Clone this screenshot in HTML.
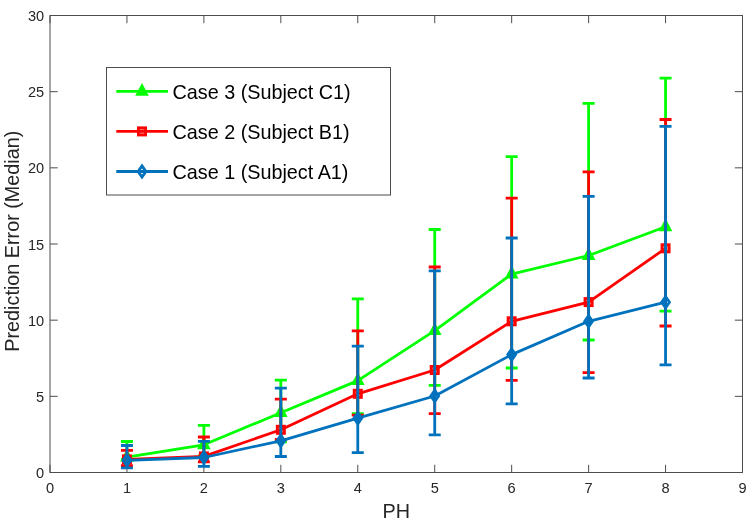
<!DOCTYPE html>
<html lang="en">
<head>
<meta charset="utf-8">
<title>Prediction Error (Median) vs PH</title>
<style>
html,body{margin:0;padding:0;background:#ffffff;}
body{width:750px;height:522px;overflow:hidden;}
</style>
</head>
<body>
<svg xmlns="http://www.w3.org/2000/svg" width="750" height="522" viewBox="0 0 750 522" style="display:block;font-family:'Liberation Sans',Arial,Helvetica,sans-serif">
<rect x="0" y="0" width="750" height="522" fill="#ffffff"/>
<path d="M50.00,472.5v-7.7M50.00,15.5v7.7M126.94,472.5v-7.7M126.94,15.5v7.7M203.89,472.5v-7.7M203.89,15.5v7.7M280.83,472.5v-7.7M280.83,15.5v7.7M357.78,472.5v-7.7M357.78,15.5v7.7M434.72,472.5v-7.7M434.72,15.5v7.7M511.67,472.5v-7.7M511.67,15.5v7.7M588.61,472.5v-7.7M588.61,15.5v7.7M665.56,472.5v-7.7M665.56,15.5v7.7M742.50,472.5v-7.7M742.50,15.5v7.7M50.0,472.50h7.7M742.5,472.50h-7.7M50.0,396.33h7.7M742.5,396.33h-7.7M50.0,320.17h7.7M742.5,320.17h-7.7M50.0,244.00h7.7M742.5,244.00h-7.7M50.0,167.83h7.7M742.5,167.83h-7.7M50.0,91.67h7.7M742.5,91.67h-7.7M50.0,15.50h7.7M742.5,15.50h-7.7" stroke="#4d4d4d" stroke-width="1" fill="none"/>
<rect x="50.0" y="15.5" width="692.5" height="457.0" fill="none" stroke="#4d4d4d" stroke-width="1"/>
<g font-size="14.6" fill="#262626">
<text x="50.00" y="492.7" text-anchor="middle">0</text>
<text x="126.94" y="492.7" text-anchor="middle">1</text>
<text x="203.89" y="492.7" text-anchor="middle">2</text>
<text x="280.83" y="492.7" text-anchor="middle">3</text>
<text x="357.78" y="492.7" text-anchor="middle">4</text>
<text x="434.72" y="492.7" text-anchor="middle">5</text>
<text x="511.67" y="492.7" text-anchor="middle">6</text>
<text x="588.61" y="492.7" text-anchor="middle">7</text>
<text x="665.56" y="492.7" text-anchor="middle">8</text>
<text x="742.50" y="492.7" text-anchor="middle">9</text>
<text x="44.2" y="478.10" text-anchor="end">0</text>
<text x="44.2" y="401.93" text-anchor="end">5</text>
<text x="44.2" y="325.77" text-anchor="end">10</text>
<text x="44.2" y="249.60" text-anchor="end">15</text>
<text x="44.2" y="173.43" text-anchor="end">20</text>
<text x="44.2" y="97.27" text-anchor="end">25</text>
<text x="44.2" y="21.10" text-anchor="end">30</text>
</g>
<text x="396.3" y="517.6" font-size="19.8" text-anchor="middle" fill="#262626">PH</text>
<text transform="translate(19.4,241.2) rotate(-90)" font-size="19.8" text-anchor="middle" fill="#262626">Prediction Error (Median)</text>
<g stroke="#00ff00" stroke-width="2.8" fill="none">
<polyline points="126.94,457.20 203.89,444.80 280.83,412.70 357.78,380.60 434.72,330.60 511.67,274.10 588.61,255.50 665.56,226.80" stroke-linejoin="round"/>
<path d="M126.94,441.50V459.50M120.94,441.50H132.94M120.94,459.50H132.94M203.89,425.30V456.00M197.89,425.30H209.89M197.89,456.00H209.89M280.83,380.10V441.80M274.83,380.10H286.83M274.83,441.80H286.83M357.78,298.90V413.60M351.78,298.90H363.78M351.78,413.60H363.78M434.72,229.50V385.30M428.72,229.50H440.72M428.72,385.30H440.72M511.67,156.60V368.00M505.67,156.60H517.67M505.67,368.00H517.67M588.61,103.40V340.00M582.61,103.40H594.61M582.61,340.00H594.61M665.56,78.20V311.20M659.56,78.20H671.56M659.56,311.20H671.56"/>
</g>
<polygon points="126.94,448.70 120.14,461.60 133.74,461.60" fill="#00ff00"/>
<polygon points="203.89,436.30 197.09,449.20 210.69,449.20" fill="#00ff00"/>
<polygon points="280.83,404.20 274.03,417.10 287.63,417.10" fill="#00ff00"/>
<polygon points="357.78,372.10 350.98,385.00 364.58,385.00" fill="#00ff00"/>
<polygon points="434.72,322.10 427.92,335.00 441.52,335.00" fill="#00ff00"/>
<polygon points="511.67,265.60 504.87,278.50 518.47,278.50" fill="#00ff00"/>
<polygon points="588.61,247.00 581.81,259.90 595.41,259.90" fill="#00ff00"/>
<polygon points="665.56,218.30 658.76,231.20 672.36,231.20" fill="#00ff00"/>
<g stroke="#ff0000" stroke-width="2.8" fill="none">
<polyline points="126.94,459.40 203.89,456.40 280.83,429.80 357.78,393.80 434.72,370.00 511.67,321.30 588.61,302.10 665.56,248.30" stroke-linejoin="round"/>
<path d="M126.94,450.30V465.60M120.94,450.30H132.94M120.94,465.60H132.94M203.89,437.00V461.80M197.89,437.00H209.89M197.89,461.80H209.89M280.83,399.20V439.50M274.83,399.20H286.83M274.83,439.50H286.83M357.78,330.90V415.10M351.78,330.90H363.78M351.78,415.10H363.78M434.72,267.00V413.60M428.72,267.00H440.72M428.72,413.60H440.72M511.67,198.10V380.30M505.67,198.10H517.67M505.67,380.30H517.67M588.61,171.80V372.60M582.61,171.80H594.61M582.61,372.60H594.61M665.56,119.50V326.00M659.56,119.50H671.56M659.56,326.00H671.56"/>
</g>
<rect x="123.34" y="455.80" width="7.2" height="7.2" fill="#ff0000" fill-opacity="0.45" stroke="#ff0000" stroke-width="2.8"/>
<rect x="200.29" y="452.80" width="7.2" height="7.2" fill="#ff0000" fill-opacity="0.45" stroke="#ff0000" stroke-width="2.8"/>
<rect x="277.23" y="426.20" width="7.2" height="7.2" fill="#ff0000" fill-opacity="0.45" stroke="#ff0000" stroke-width="2.8"/>
<rect x="354.18" y="390.20" width="7.2" height="7.2" fill="#ff0000" fill-opacity="0.45" stroke="#ff0000" stroke-width="2.8"/>
<rect x="431.12" y="366.40" width="7.2" height="7.2" fill="#ff0000" fill-opacity="0.45" stroke="#ff0000" stroke-width="2.8"/>
<rect x="508.07" y="317.70" width="7.2" height="7.2" fill="#ff0000" fill-opacity="0.45" stroke="#ff0000" stroke-width="2.8"/>
<rect x="585.01" y="298.50" width="7.2" height="7.2" fill="#ff0000" fill-opacity="0.45" stroke="#ff0000" stroke-width="2.8"/>
<rect x="661.96" y="244.70" width="7.2" height="7.2" fill="#ff0000" fill-opacity="0.45" stroke="#ff0000" stroke-width="2.8"/>
<g stroke="#0072bd" stroke-width="2.8" fill="none">
<polyline points="126.94,460.30 203.89,457.50 280.83,440.80 357.78,418.20 434.72,396.00 511.67,354.60 588.61,321.30 665.56,302.20" stroke-linejoin="round"/>
<path d="M126.94,445.50V467.80M120.94,445.50H132.94M120.94,467.80H132.94M203.89,441.30V466.30M197.89,441.30H209.89M197.89,466.30H209.89M280.83,388.10V456.50M274.83,388.10H286.83M274.83,456.50H286.83M357.78,346.20V452.70M351.78,346.20H363.78M351.78,452.70H363.78M434.72,270.90V434.90M428.72,270.90H440.72M428.72,434.90H440.72M511.67,238.00V403.90M505.67,238.00H517.67M505.67,403.90H517.67M588.61,196.30V378.00M582.61,196.30H594.61M582.61,378.00H594.61M665.56,126.40V364.80M659.56,126.40H671.56M659.56,364.80H671.56"/>
</g>
<polygon points="126.94,454.70 130.84,460.30 126.94,465.90 123.04,460.30" fill="none" stroke="#0072bd" stroke-width="2.8" stroke-linejoin="miter"/>
<polygon points="203.89,451.90 207.79,457.50 203.89,463.10 199.99,457.50" fill="none" stroke="#0072bd" stroke-width="2.8" stroke-linejoin="miter"/>
<polygon points="280.83,435.20 284.73,440.80 280.83,446.40 276.93,440.80" fill="none" stroke="#0072bd" stroke-width="2.8" stroke-linejoin="miter"/>
<polygon points="357.78,412.60 361.68,418.20 357.78,423.80 353.88,418.20" fill="none" stroke="#0072bd" stroke-width="2.8" stroke-linejoin="miter"/>
<polygon points="434.72,390.40 438.62,396.00 434.72,401.60 430.82,396.00" fill="none" stroke="#0072bd" stroke-width="2.8" stroke-linejoin="miter"/>
<polygon points="511.67,349.00 515.57,354.60 511.67,360.20 507.77,354.60" fill="none" stroke="#0072bd" stroke-width="2.8" stroke-linejoin="miter"/>
<polygon points="588.61,315.70 592.51,321.30 588.61,326.90 584.71,321.30" fill="none" stroke="#0072bd" stroke-width="2.8" stroke-linejoin="miter"/>
<polygon points="665.56,296.60 669.46,302.20 665.56,307.80 661.66,302.20" fill="none" stroke="#0072bd" stroke-width="2.8" stroke-linejoin="miter"/>
<rect x="106.5" y="67.5" width="284" height="127.5" fill="#ffffff" stroke="#4d4d4d" stroke-width="1"/>
<line x1="116.3" y1="91.4" x2="168" y2="91.4" stroke="#00ff00" stroke-width="2.8"/>
<polygon points="142.00,82.90 135.20,95.80 148.80,95.80" fill="#00ff00"/>
<text x="172.5" y="99.00" font-size="19.8" fill="#000000">Case 3 (Subject C1)</text>
<line x1="116.3" y1="131.4" x2="168" y2="131.4" stroke="#ff0000" stroke-width="2.8"/>
<rect x="138.40" y="127.80" width="7.2" height="7.2" fill="#ff0000" fill-opacity="0.45" stroke="#ff0000" stroke-width="2.8"/>
<text x="172.5" y="139.00" font-size="19.8" fill="#000000">Case 2 (Subject B1)</text>
<line x1="116.3" y1="171.5" x2="168" y2="171.5" stroke="#0072bd" stroke-width="2.8"/>
<polygon points="142.00,165.90 145.90,171.50 142.00,177.10 138.10,171.50" fill="none" stroke="#0072bd" stroke-width="2.8" stroke-linejoin="miter"/>
<text x="172.5" y="179.10" font-size="19.8" fill="#000000">Case 1 (Subject A1)</text>
</svg>
</body>
</html>
